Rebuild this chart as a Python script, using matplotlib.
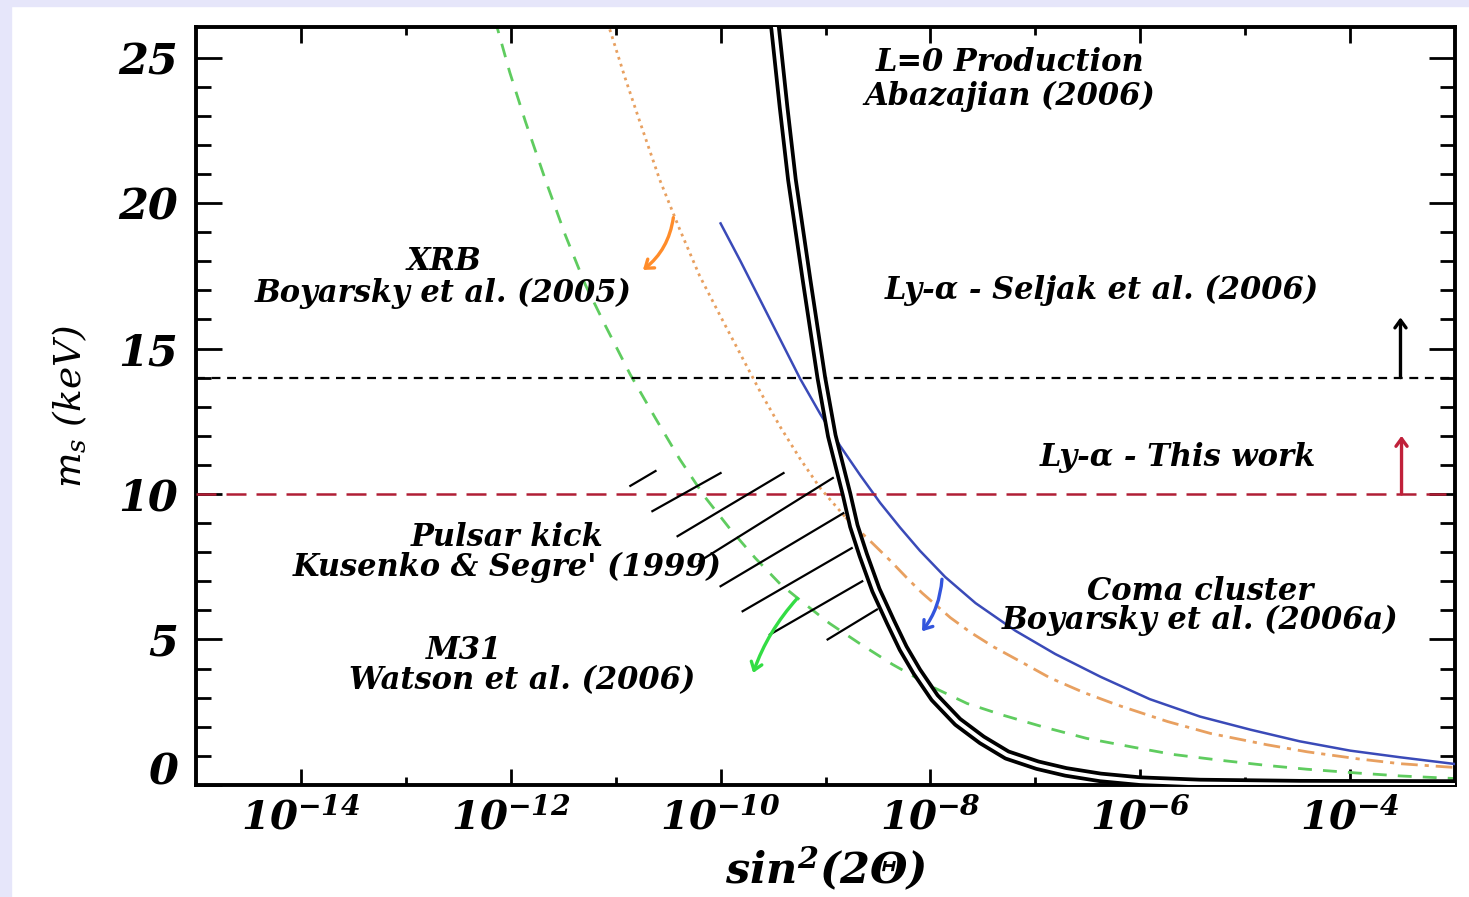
import numpy as np
import matplotlib.pyplot as plt
import matplotlib.patheffects as pe
from matplotlib.patches import Rectangle
from matplotlib.ticker import NullFormatter

plt.rcParams['font.family'] = ['DejaVu Serif']
plt.rcParams['mathtext.fontset'] = 'custom'
plt.rcParams['mathtext.rm'] = 'DejaVu Serif:italic'
plt.rcParams['mathtext.it'] = 'DejaVu Serif:italic'
plt.rcParams['mathtext.bf'] = 'DejaVu Serif:italic:bold'

# curves: log10(sin^2 2theta) vs sterile mass m_s in keV
l0_lx = [-9.53, -9.48, -9.40, -9.32, -9.18, -9.04, -8.94, -8.80, -8.73, -8.64,
         -8.52, -8.38, -8.26, -8.13, -7.96, -7.74, -7.51, -7.27, -6.98, -6.71,
         -6.38, -6.00, -5.43, -4.48, -3.00]
l0_m = [27.0, 26.0, 23.3, 20.8, 17.34, 14.0, 12.0, 10.0, 8.9, 7.9,
        6.7, 5.6, 4.7, 3.9, 3.0, 2.17, 1.55, 1.03, 0.68, 0.45,
        0.26, 0.13, 0.05, 0.01, 0.0]

m31_lx = [-12.15, -12.01, -11.86, -11.67, -11.48, -11.29, -11.10, -10.86, -10.62,
          -10.39, -10.15, -9.91, -9.67, -9.43, -9.19, -8.96, -8.67, -8.36, -7.97,
          -7.65, -7.31, -6.93, -6.51, -6.07, -5.69, -5.24, -4.79, -4.41, -3.93,
          -3.52, -3.11, -3.00]
m31_m = [26.3, 24.5, 22.8, 20.8, 18.9, 17.2, 15.8, 14.1, 12.6,
         11.2, 9.9, 8.8, 7.8, 6.9, 6.2, 5.55, 4.85, 4.14, 3.35,
         2.8, 2.4, 2.0, 1.6, 1.3, 1.05, 0.85, 0.67, 0.54, 0.41,
         0.31, 0.24, 0.22]

# XRB bound, dotted above the L=0 curve, dash-dot below it
xrb_lx = [-11.15, -11.05, -10.91, -10.77, -10.58, -10.39, -10.20, -10.00, -9.81,
          -9.62, -9.43, -9.24, -9.05, -8.81]
xrb_m = [26.9, 25.9, 24.3, 22.8, 20.8, 19.1, 17.5, 16.1, 14.8,
         13.5, 12.3, 11.2, 10.2, 9.2]
xrb2_lx = [-8.81, -8.55, -8.38, -8.22, -8.08, -7.81, -7.62, -7.40, -7.08, -6.86,
           -6.54, -6.22, -5.74, -5.33, -4.79, -4.41, -3.93, -3.52, -3.00]
xrb2_m = [9.2, 8.3, 7.7, 7.1, 6.6, 5.75, 5.25, 4.75, 4.12, 3.68,
          3.18, 2.75, 2.18, 1.77, 1.38, 1.14, 0.9, 0.73, 0.6]

coma_lx = [-10.00, -9.81, -9.62, -9.43, -9.24, -9.05, -8.86, -8.67, -8.48, -8.29,
           -8.10, -7.86, -7.57, -7.19, -6.81, -6.38, -5.91, -5.43, -4.95, -4.48,
           -4.00, -3.52, -3.00]
coma_m = [19.3, 18.0, 16.65, 15.3, 13.95, 12.75, 11.65, 10.65, 9.7, 8.85,
          8.05, 7.15, 6.25, 5.3, 4.5, 3.72, 2.95, 2.35, 1.9, 1.5,
          1.18, 0.95, 0.72]

# pulsar kick hatch segments: (lx0, m0) -> (lx1, m1)
kick_lx0 = [-10.86, -10.65, -10.41, -10.20, -10.00, -9.79, -9.53, -8.98]
kick_m0 = [10.28, 9.41, 8.55, 7.69, 6.83, 5.97, 5.17, 5.00]
kick_lx1 = [-10.62, -10.00, -9.40, -8.93, -8.83, -8.75, -8.65, -8.51]
kick_m1 = [10.79, 10.72, 10.72, 10.55, 9.34, 8.14, 7.00, 6.03]

seljak_m = 14.0
this_work_m = 10.0

xticks_exp = [-14, -12, -10, -8, -6, -4]
xminor_exp = [-13, -11, -9, -7, -5]
yticks = [0, 5, 10, 15, 20, 25]

fig = plt.figure(figsize=(14.69, 8.97), dpi=100)
fig.patches.append(Rectangle((0, 1 - 6 / 897), 1, 6 / 897, transform=fig.transFigure,
                             color='#e6e6fa', zorder=0))
fig.patches.append(Rectangle((0, 0), 11 / 1469, 1, transform=fig.transFigure,
                             color='#e6e6fa', zorder=0))
ax = fig.add_axes([0.1334, 0.1249, 0.8571, 0.8450])
ax.set_xscale('log')
ax.set_xlim(1e-15, 1e-3)
ax.set_ylim(0, 26.05)

p = lambda lx: 10.0 ** np.array(lx)

ax.plot(p(m31_lx), m31_m, color='#5fcc5f', lw=2.0, dashes=(5, 4), zorder=2)
ax.plot(p(xrb_lx), xrb_m, color='#e8a060', lw=2.0, dashes=(1, 1.6), zorder=2)
ax.plot(p(xrb2_lx), xrb2_m, color='#e8a060', lw=2.0, dashes=(6, 2.5, 1.5, 2.5), zorder=2)
ax.plot(p(coma_lx), coma_m, color='#3a4ab8', lw=1.8, zorder=3)
ax.plot(p(l0_lx), l0_m, color='white', lw=2.8, solid_capstyle='butt', zorder=4,
        path_effects=[pe.Stroke(linewidth=8.2, foreground='black'), pe.Normal()])

ax.axhline(seljak_m, color='black', lw=1.6, dashes=(4, 3), zorder=3)
ax.axhline(this_work_m, color='#b01e35', lw=1.8, dashes=(8, 4), zorder=3)

for a, b, c, d in zip(kick_lx0, kick_m0, kick_lx1, kick_m1):
    ax.plot(p([a, c]), [b, d], color='black', lw=1.6, zorder=3)

arrow = dict(arrowstyle='->,head_length=0.55,head_width=0.4', lw=2.4,
             shrinkA=0, shrinkB=0)
ax.annotate('', xy=(p(-3.52), 16.07), xytext=(p(-3.52), seljak_m),
            arrowprops=dict(arrow, color='black'))
ax.annotate('', xy=(p(-3.51), 12.0), xytext=(p(-3.51), this_work_m),
            arrowprops=dict(arrow, color='#c0203a'))
ax.annotate('', xy=(p(-10.74), 17.7), xytext=(p(-10.45), 19.5),
            arrowprops=dict(arrow, color='#ff8c2a', connectionstyle='arc3,rad=-0.2'))
ax.annotate('', xy=(p(-8.08), 5.28), xytext=(p(-7.89), 7.07),
            arrowprops=dict(arrow, color='#3355dd', connectionstyle='arc3,rad=-0.15'))
ax.annotate('', xy=(p(-9.69), 3.85), xytext=(p(-9.27), 6.41),
            arrowprops=dict(arrow, color='#33dd44', connectionstyle='arc3,rad=0.1'))

txt = dict(fontsize=22, fontweight='bold', fontstyle='italic', ha='center',
           va='center', multialignment='center', zorder=5)
ax.text(p(-7.245), 24.26, 'L=0 Production\nAbazajian (2006)', linespacing=1.12, **txt)
ax.text(p(-12.64), 17.43, 'XRB\nBoyarsky et al. (2005)', linespacing=1.03, **txt)
ax.text(p(-6.37), 17.0, 'Ly-\u03b1 - Seljak et al. (2006)', **txt)
ax.text(p(-5.64), 11.24, 'Ly-\u03b1 - This work', **txt)
ax.text(p(-12.03), 7.985, "Pulsar kick\nKusenko & Segre' (1999)", linespacing=0.96, **txt)
ax.text(p(-5.43), 6.155, 'Coma cluster\nBoyarsky et al. (2006a)', linespacing=0.88, **txt)
ax.text(p(-11.89), 4.105, 'M31' + ' ' * 11 + '\nWatson et al. (2006)', linespacing=1.0, **txt)

ax.set_xticks(p(xticks_exp))
ax.set_xticklabels([r'$\mathbf{10^{%d}}$' % e for e in xticks_exp], fontsize=29)
ax.set_xticks(p(xminor_exp), minor=True)
ax.xaxis.set_minor_formatter(NullFormatter())
ax.set_yticks(yticks)
ax.set_yticklabels([str(v) for v in yticks], fontsize=31, fontweight='bold',
                   fontstyle='italic')
ax.set_yticks(range(0, 26), minor=True)
ax.yaxis.get_major_ticks()[0].label1.set_verticalalignment('baseline')

ax.tick_params(which='both', direction='in', top=True, right=True, width=2.0)
ax.tick_params(axis='x', which='major', length=11.5, pad=9)
ax.tick_params(axis='x', which='minor', length=6)
ax.tick_params(axis='y', which='major', length=19, pad=13)
ax.tick_params(axis='y', which='minor', length=10.5)
for s in ax.spines.values():
    s.set_linewidth(2.8)

ax.set_xlabel(r'$\mathbf{sin^{2}(2\Theta)}$', fontsize=31, labelpad=6)
ax.set_ylabel(r'$m_s\ (keV)$', fontsize=27, labelpad=21)

fig.savefig('out.png', dpi=100)
